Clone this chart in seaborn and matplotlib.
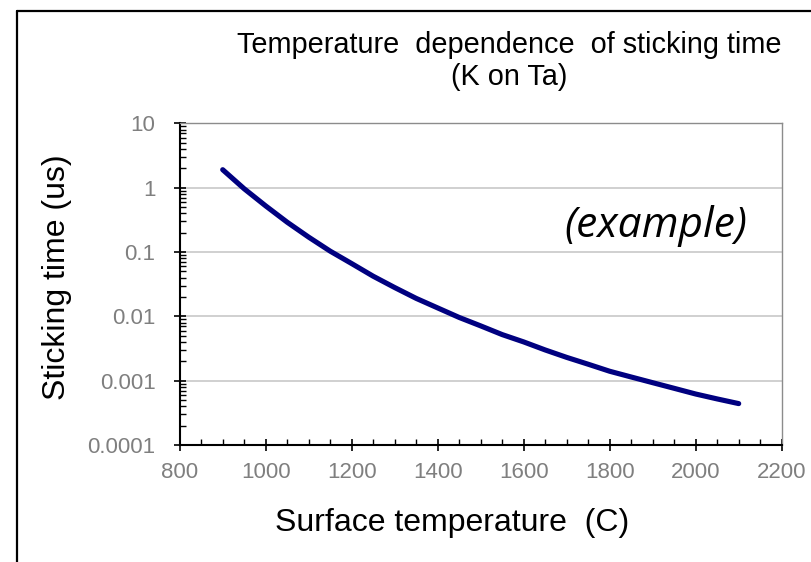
import matplotlib
matplotlib.use("Agg")
import matplotlib.pyplot as plt
import matplotlib.ticker as mticker
from matplotlib.lines import Line2D
import numpy as np
import pandas as pd
import seaborn as sns

# ---- data ----
temperature_c = [900, 950, 1000, 1050, 1100, 1150, 1200, 1250, 1300, 1350, 1400, 1450,
                 1500, 1550, 1600, 1650, 1700, 1750, 1800, 1850, 1900, 1950, 2000,
                 2050, 2100]
sticking_time_us = [1.9, 0.96, 0.52, 0.29, 0.17, 0.103, 0.066, 0.042, 0.028, 0.019,
                    0.0135, 0.0096, 0.0071, 0.0052, 0.0040, 0.0030, 0.0023, 0.0018,
                    0.0014, 0.00114, 0.00093, 0.00076, 0.00062, 0.00052, 0.00044]
x_ticks = [800, 1000, 1200, 1400, 1600, 1800, 2000, 2200]
y_ticks = [0.0001, 0.001, 0.01, 0.1, 1, 10]
y_tick_labels = ["0.0001", "0.001", "0.01", "0.1", "1", "10"]

title_text = "Temperature  dependence  of sticking time\n(K on Ta)"
x_label = "Surface temperature  (C)"
y_label = "Sticking time (us)"
note_text = "(example)"

df = pd.DataFrame({"T": temperature_c, "tau": sticking_time_us})

sns.set_theme(style="white")
plt.rcParams["font.family"] = ["Liberation Sans", "DejaVu Sans"]

W, H = 812, 562
fig = plt.figure(figsize=(W / 100, H / 100), dpi=100)
ax = fig.add_axes([179.7 / W, 1 - 445 / H, (781.7 - 179.7) / W, (445 - 123.3) / H])

sns.lineplot(data=df, x="T", y="tau", ax=ax, color="#000080", linewidth=3.7,
             solid_capstyle="round", solid_joinstyle="round")

ax.set_yscale("log")
ax.set_xlim(800, 2200)
ax.set_ylim(0.0001, 10)
ax.set_xticks(x_ticks)
ax.set_xticklabels([str(v) for v in x_ticks])
ax.xaxis.set_minor_locator(mticker.MultipleLocator(50))
ax.set_yticks(y_ticks)
ax.set_yticklabels(y_tick_labels)
ax.yaxis.set_minor_locator(mticker.LogLocator(base=10, subs=np.arange(2, 10), numticks=20))
ax.yaxis.set_minor_formatter(mticker.NullFormatter())

ax.set_xlabel("")
ax.set_ylabel("")

ax.grid(False)
ax.yaxis.grid(True, which="major", color="#c4c4c4", linewidth=1.1)
ax.set_axisbelow(True)

for side in ["left", "bottom"]:
    ax.spines[side].set_color("black")
    ax.spines[side].set_linewidth(1.5)
for side in ["top", "right"]:
    ax.spines[side].set_color("#8c8c8c")
    ax.spines[side].set_linewidth(1.0)

ax.tick_params(axis="both", which="major", direction="inout", length=8, width=1.2,
               color="black", labelcolor="#7f7f7f", labelsize=16)
ax.tick_params(axis="y", which="major", pad=13.5, left=True)
ax.tick_params(axis="x", which="major", pad=8, bottom=True)
ax.tick_params(axis="both", which="minor", direction="in", length=4, width=1.0,
               color="black")
ax.tick_params(axis="y", which="minor", left=True)
ax.tick_params(axis="x", which="minor", bottom=True)

# title and axis labels
fig.text(509 / W, 1 - 61 / H, title_text, ha="center", va="center",
         fontsize=20.8, color="black", linespacing=1.2)
fig.text(452 / W, 1 - 523 / H, x_label, ha="center", va="center",
         fontsize=23, color="black")
fig.text(57 / W, 1 - 277 / H, y_label, ha="center", va="center",
         rotation=90, fontsize=23, color="black")

# annotation
ax.text(656 / W, 1 - 226 / H, note_text, transform=fig.transFigure,
        ha="center", va="center", fontsize=30.5, style="italic",
        family=["Open Sans", "Lato", "DejaVu Sans"], color="black")

# outer frame (left and top edges)
fig.add_artist(Line2D([17.3 / W, 17.3 / W], [0, 1 - 10.7 / H],
                      transform=fig.transFigure, color="black", linewidth=1.6))
fig.add_artist(Line2D([17.3 / W, 1], [1 - 10.7 / H, 1 - 10.7 / H],
                      transform=fig.transFigure, color="black", linewidth=1.6))

fig.savefig("out.png", dpi=100, facecolor="white")
